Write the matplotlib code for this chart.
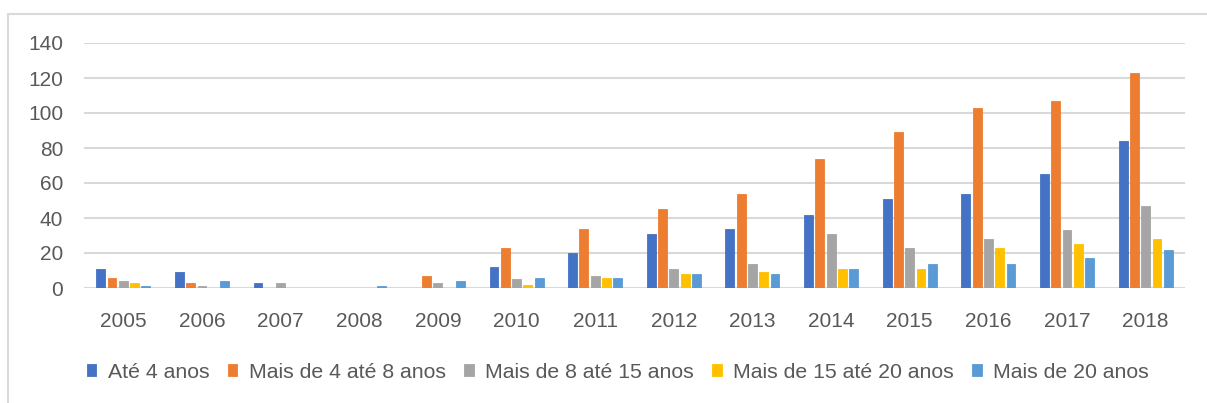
import matplotlib.pyplot as plt
import matplotlib.patches as patches
import numpy as np

plt.rcParams['font.family'] = ['Liberation Sans', 'DejaVu Sans']

# dados
anos = ['2005', '2006', '2007', '2008', '2009', '2010', '2011',
        '2012', '2013', '2014', '2015', '2016', '2017', '2018']
series = ['Até 4 anos', 'Mais de 4 até 8 anos', 'Mais de 8 até 15 anos',
          'Mais de 15 até 20 anos', 'Mais de 20 anos']
ate_4 = [11, 9, 3, 0, 0, 12, 20, 31, 34, 42, 51, 54, 65, 84]
de_4_8 = [6, 3, 0, 0, 7, 23, 34, 45, 54, 74, 89, 103, 107, 123]
de_8_15 = [4, 1, 3, 0, 3, 5, 7, 11, 14, 31, 23, 28, 33, 47]
de_15_20 = [3, 0, 0, 0, 0, 2, 6, 8, 9, 11, 11, 23, 25, 28]
mais_20 = [1, 4, 0, 1, 4, 6, 6, 8, 8, 11, 14, 14, 17, 22]

cores = ['#4472C4', '#ED7D31', '#A5A5A5', '#FFC000', '#5B9BD5']
valores = [ate_4, de_4_8, de_8_15, de_15_20, mais_20]

W, H = 1207, 403
fig = plt.figure(figsize=(W / 100, H / 100), dpi=100)

# moldura do gráfico
fig.patches.append(patches.Rectangle((8 / W, -0.1), 1.2, (H - 14) / H + 0.1,
                                     transform=fig.transFigure, fill=False,
                                     edgecolor='#d9d9d9', linewidth=1.5))

ax = fig.add_axes([84 / W, 115 / H, (1185 - 84) / W, 245 / H])

x = np.arange(len(anos))
passo = 0.1435
largura = 0.112
for i, (nome, v) in enumerate(zip(series, valores)):
    ax.bar(x + (i - 2) * passo, v, width=largura, color=cores[i], label=nome,
           edgecolor=cores[i], linewidth=0.6, zorder=3)

ax.set_xlim(-0.5, len(anos) - 0.5)
ax.set_ylim(0, 140)
ax.set_yticks(range(0, 141, 20))
ax.set_xticks(x)
ax.set_xticklabels(anos)
ax.grid(axis='y', color='#d9d9d9', linewidth=1.5, zorder=0)
for s in ax.spines.values():
    s.set_visible(False)
ax.tick_params(length=0, labelsize=15, colors='#595959')
ax.tick_params(axis='y', pad=15)
ax.tick_params(axis='x', pad=17)

fig.legend(loc='center', bbox_to_anchor=(0.512, 31 / H), ncol=5, frameon=False,
           fontsize=15.3, labelcolor='#595959', handlelength=0.45, handleheight=0.45,
           handletextpad=0.55, columnspacing=0.85)

fig.savefig('out.png', dpi=100)
